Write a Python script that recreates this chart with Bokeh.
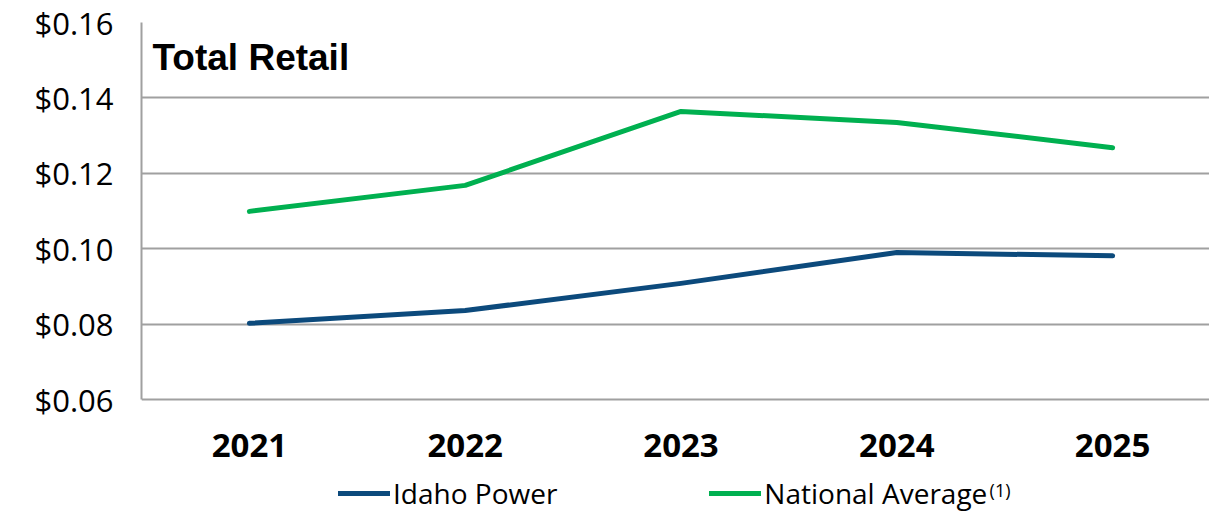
from bokeh.plotting import figure
from bokeh.models import (Range1d, FixedTicker, NumeralTickFormatter, Legend, LegendItem, Label)
from bokeh.core.properties import value
from bokeh.embed import file_html
from bokeh.resources import INLINE

years = ["2021", "2022", "2023", "2024", "2025"]
idaho_power = [0.0802, 0.0836, 0.0908, 0.0990, 0.0981]
national_avg = [0.1099, 0.1168, 0.1364, 0.1335, 0.1268]
y_ticks = [0.06, 0.08, 0.10, 0.12, 0.14, 0.16]
series_names = ["Idaho Power", "National Average"]

xs = list(range(len(years)))

# frame extends below the value axis so the category labels and legend sit inside it
p = figure(frame_width=1068, frame_height=490, output_backend="svg", toolbar_location=None,
           x_range=Range1d(-0.5, 4.449), y_range=Range1d(0.16 - 490 / 3770, 0.16),
           min_border_left=141, min_border_right=0, min_border_top=22, min_border_bottom=0)
p.outline_line_color = None
p.background_fill_color = "white"

blue = "#0C4A7C"
green = "#00B050"
r1 = p.line(xs, idaho_power, line_color=blue, line_width=5, line_cap="round", line_join="round")
r2 = p.line(xs, national_avg, line_color=green, line_width=5, line_cap="round", line_join="round")

p.xgrid.grid_line_color = None
p.ygrid.ticker = FixedTicker(ticks=y_ticks)
p.ygrid.grid_line_color = "#A0A0A0"
p.ygrid.grid_line_width = 2

p.yaxis.ticker = FixedTicker(ticks=y_ticks)
p.yaxis.bounds = (y_ticks[0], y_ticks[-1])
p.yaxis.formatter = NumeralTickFormatter(format="$0.00")
p.yaxis.axis_line_color = "#A0A0A0"
p.yaxis.axis_line_width = 2
p.yaxis.major_tick_line_color = None
p.yaxis.minor_tick_line_color = None
p.yaxis.major_label_text_font = "Open Sans"
p.yaxis.major_label_text_font_size = "31px"
p.yaxis.major_label_text_color = "black"
p.yaxis.major_label_standoff = 22

p.xaxis.visible = False
p.text(xs, [y_ticks[0]] * len(years), text=years, y_offset=46,
       text_font=value("Open Sans"), text_font_size="33px", text_font_style="bold",
       text_align="center", text_baseline="middle", text_color="black")

legend = Legend(items=[LegendItem(label=series_names[0], renderers=[r1]),
                       LegendItem(label=series_names[1], renderers=[r2])],
                orientation="horizontal", location=(197, 0),
                glyph_width=52, glyph_height=20, label_standoff=3, spacing=152,
                label_text_font="Open Sans", label_text_font_size="28px",
                label_text_color="black",
                border_line_color=None, background_fill_alpha=0, padding=0, margin=0)
p.add_layout(legend, "center")

p.add_layout(Label(x=-0.449, y=0.1507, text="Total Retail", text_font="Liberation Sans",
                   text_font_style="bold", text_font_size="37px", text_baseline="middle",
                   text_color="black"))
p.add_layout(Label(x=3.43, y=0.0361, text="(1)", text_font="Open Sans",
                   text_font_size="18px", text_baseline="middle", text_color="black"))

open("out.html", "w").write(file_html(p, INLINE))
